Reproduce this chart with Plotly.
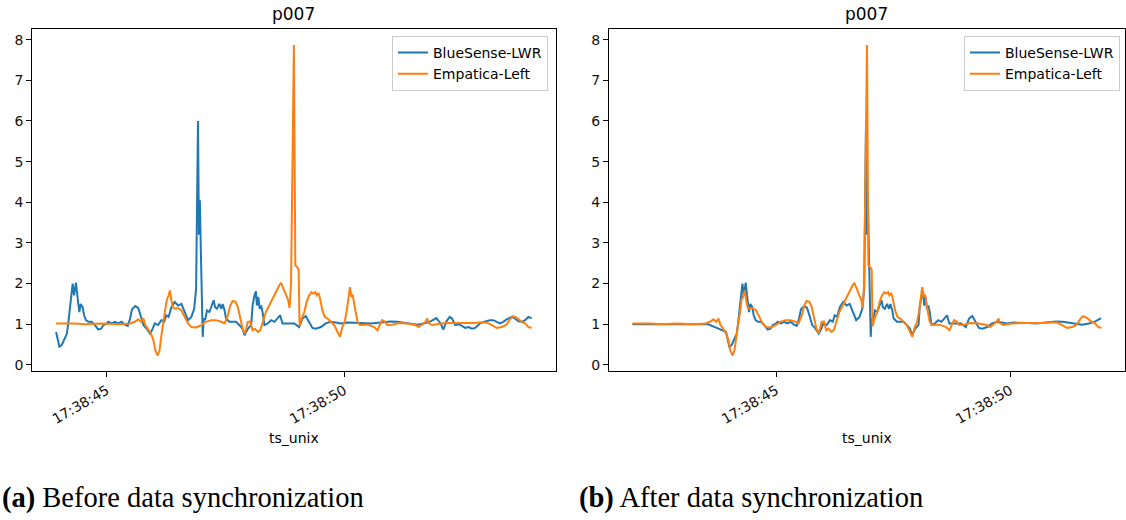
import pandas as pd
import plotly.graph_objects as go

# ---------------- data ----------------
BASE = "2020-01-01 17:38:00"          # clock base; values below are seconds after 17:38:00
TITLE = "p007"
SERIES_NAMES = ["BlueSense-LWR", "Empatica-Left"]
COLORS = ["#1f77b4", "#ff7f0e"]
X_LABEL = "ts_unix"
CAPTIONS = ["<b>(a)</b> Before data synchronization", "<b>(b)</b> After data synchronization"]
Y_TICKS = [0, 1, 2, 3, 4, 5, 6, 7, 8]
X_TICK_START_S = 45
X_TICK_STEP_S = 5

# BlueSense-LWR (before sync)
BLUE_T = [43.93, 44.00, 44.05, 44.16, 44.19, 44.23, 44.28, 44.31, 44.35, 44.39, 44.42, 44.45, 44.49,
          44.52, 44.56, 44.61, 44.68, 44.75, 44.82, 44.88, 44.93, 45.00, 45.03, 45.10, 45.17, 45.24,
          45.31, 45.38, 45.44, 45.49, 45.53, 45.60, 45.66, 45.71, 45.77, 45.84, 45.91, 45.95, 46.01,
          46.08, 46.15, 46.21, 46.25, 46.30, 46.36, 46.43, 46.50, 46.57, 46.64, 46.71, 46.78, 46.84,
          46.88, 46.92, 46.94, 46.96, 46.98, 47.00, 47.02, 47.04, 47.07, 47.11, 47.16, 47.21, 47.25,
          47.28, 47.32, 47.37, 47.41, 47.44, 47.48, 47.51, 47.58, 47.65, 47.72, 47.79, 47.86, 47.90,
          47.97, 48.04, 48.07, 48.11, 48.14, 48.16, 48.19, 48.22, 48.25, 48.28, 48.32, 48.39, 48.46,
          48.53, 48.60, 48.65, 48.70, 48.77, 48.84, 48.95, 49.05, 49.12, 49.19, 49.26, 49.33, 49.40,
          49.51, 49.61, 49.72, 49.82, 49.93, 50.07, 50.21, 50.35, 50.56, 50.77, 50.98, 51.12, 51.33,
          51.54, 51.68, 51.82, 51.94, 52.03, 52.09, 52.15, 52.22, 52.27, 52.34, 52.41, 52.48, 52.55,
          52.62, 52.69, 52.76, 52.86, 52.97, 53.07, 53.14, 53.21, 53.28, 53.35, 53.42, 53.53, 53.60,
          53.67, 53.74, 53.81, 53.88, 53.95]
BLUE_V = [0.81, 0.45, 0.49, 0.77, 1.06, 1.46, 2.00, 1.71, 2.02, 1.59, 1.30, 1.50, 1.42,
          1.22, 1.10, 1.06, 1.06, 0.98, 0.87, 0.89, 0.98, 1.02, 1.06, 1.02, 1.06, 1.02,
          1.06, 0.99, 0.96, 1.14, 1.37, 1.45, 1.40, 1.22, 0.98, 0.89, 0.77, 0.85, 1.02,
          0.98, 1.10, 1.06, 1.22, 1.18, 1.42, 1.55, 1.46, 1.50, 1.30, 1.10, 1.18, 1.38,
          1.87, 6.00, 3.20, 4.05, 2.80, 1.95, 0.69, 1.14, 1.10, 1.34, 1.30, 1.46, 1.59,
          1.42, 1.38, 1.50, 1.38, 1.50, 1.34, 1.14, 1.06, 1.06, 1.06, 0.98, 0.89, 0.73,
          0.89, 0.98, 1.46, 1.71, 1.81, 1.46, 1.67, 1.38, 1.46, 1.30, 0.98, 1.02, 1.10,
          1.06, 1.14, 1.22, 1.02, 1.02, 1.03, 1.02, 0.93, 1.14, 1.20, 1.06, 0.91, 0.89,
          0.93, 1.02, 1.06, 1.04, 1.02, 1.04, 1.04, 1.03, 1.02, 1.04, 1.07, 1.06, 1.02,
          0.99, 1.02, 1.07, 1.15, 1.02, 0.87, 1.06, 1.18, 1.14, 0.98, 1.00, 0.96, 0.91,
          0.93, 0.89, 0.91, 1.02, 1.07, 1.10, 1.10, 1.06, 1.02, 1.06, 1.12, 1.18, 1.14,
          1.07, 1.06, 1.10, 1.18, 1.15]

# Empatica-Left (before sync)
ORANGE_T = [43.93, 44.33, 44.54, 44.89, 45.24, 45.49, 45.59, 45.66, 45.72, 45.77, 45.81, 45.87, 45.93,
            45.98, 46.02, 46.07, 46.11, 46.15, 46.19, 46.23, 46.26, 46.30, 46.33, 46.36, 46.39, 46.43,
            46.50, 46.57, 46.64, 46.71, 46.78, 46.88, 46.99, 47.09, 47.20, 47.30, 47.41, 47.48, 47.55,
            47.60, 47.65, 47.71, 47.76, 47.81, 47.86, 47.91, 47.97, 48.02, 48.07, 48.12, 48.18, 48.23,
            48.28, 48.35, 48.42, 48.49, 48.56, 48.63, 48.67, 48.72, 48.77, 48.82, 48.85, 48.88, 48.94,
            48.97, 49.01, 49.04, 49.06, 49.09, 49.16, 49.21, 49.26, 49.31, 49.35, 49.39, 49.42, 49.46,
            49.49, 49.54, 49.59, 49.65, 49.72, 49.79, 49.86, 49.91, 49.96, 50.01, 50.05, 50.09, 50.12,
            50.15, 50.18, 50.21, 50.24, 50.28, 50.33, 50.42, 50.49, 50.63, 50.70, 50.75, 50.80, 50.85,
            50.91, 51.01, 51.15, 51.33, 51.50, 51.57, 51.64, 51.71, 51.75, 51.78, 51.85, 52.03, 52.23,
            52.44, 52.58, 52.72, 52.86, 53.00, 53.11, 53.21, 53.32, 53.42, 53.49, 53.55, 53.63, 53.74,
            53.81, 53.88, 53.95]
ORANGE_V = [1.02, 1.02, 1.00, 1.02, 1.00, 1.02, 1.06, 1.12, 1.06, 1.14, 0.98, 0.89, 0.77,
            0.61, 0.36, 0.23, 0.36, 0.73, 1.02, 1.30, 1.59, 1.71, 1.83, 1.59, 1.42, 1.38,
            1.40, 1.34, 1.18, 1.02, 0.93, 0.92, 0.98, 1.06, 1.10, 1.10, 1.06, 1.02, 1.22,
            1.46, 1.57, 1.55, 1.42, 1.14, 0.89, 0.77, 1.06, 1.07, 0.85, 0.89, 0.81, 0.85,
            1.02, 1.30, 1.46, 1.63, 1.79, 1.95, 2.02, 1.87, 1.75, 1.59, 1.40, 2.00, 7.87,
            2.45, 2.40, 2.35, 0.95, 1.10, 1.30, 1.55, 1.71, 1.79, 1.75, 1.79, 1.71, 1.77,
            1.63, 1.34, 1.18, 1.14, 1.06, 0.98, 0.81, 0.69, 0.93, 1.06, 1.30, 1.67, 1.91,
            1.67, 1.73, 1.50, 1.26, 1.06, 0.98, 0.99, 0.99, 0.93, 0.85, 0.98, 1.10, 1.07,
            0.98, 0.99, 1.03, 1.02, 0.98, 0.93, 0.99, 1.06, 1.14, 1.02, 0.98, 1.02, 1.03,
            1.03, 1.02, 1.03, 1.04, 1.04, 0.98, 0.91, 0.93, 0.99, 1.12, 1.20, 1.16, 1.06,
            1.02, 0.93, 0.91]

# After sync: Empatica stream moved by the estimated offset; BlueSense padded at the start
SYNC_OFFSET_S = -2.0
BLUE_PAD_T = [41.93, 43.55]
BLUE_PAD_V = [1.0, 1.0]

# ---------------- build ----------------
base = pd.Timestamp(BASE)


def to_dt(secs):
    return [base + pd.to_timedelta(s, unit="s") for s in secs]


def fmt(ts):
    return ts.strftime("%Y-%m-%d %H:%M:%S.%f")


orange_after_t = [t + SYNC_OFFSET_S for t in ORANGE_T]
end_after = max(orange_after_t)
blue_after_t = BLUE_PAD_T + [t for t in BLUE_T if t <= end_after]
blue_after_v = BLUE_PAD_V + [v for t, v in zip(BLUE_T, BLUE_V) if t <= end_after]

panels = [
    (BLUE_T, BLUE_V, ORANGE_T, ORANGE_V),
    (blue_after_t, blue_after_v, orange_after_t, ORANGE_V),
]

W, H = 1126, 520
x_dom = [[32.3 / W, 556 / W], [609.5 / W, 1.0]]
y_dom = [1 - 372.5 / H, 1 - 29.5 / H]
legend_right_px = [548.5, 1121]

fig = go.Figure()
FONT = "DejaVu Sans"
FS = 14

all_v = BLUE_V + ORANGE_V
vmin, vmax = min(all_v), max(all_v)
vpad = 0.05 * (vmax - vmin)
y_range = [vmin - vpad, vmax + vpad]

annotations = []
for i, (bt, bv, ot, ov) in enumerate(panels):
    xa = "x" if i == 0 else "x2"
    ya = "y" if i == 0 else "y2"
    lg = "legend" if i == 0 else "legend2"
    for name, col, tt, vv in [(SERIES_NAMES[0], COLORS[0], bt, bv), (SERIES_NAMES[1], COLORS[1], ot, ov)]:
        fig.add_trace(go.Scatter(x=to_dt(tt), y=vv, mode="lines", name=name,
                                 line=dict(color=col, width=2), xaxis=xa, yaxis=ya, legend=lg))
    tmin = min(min(bt), min(ot))
    tmax = max(max(bt), max(ot))
    pad = 0.05 * (tmax - tmin)
    xr = [fmt(base + pd.to_timedelta(tmin - pad, unit="s")),
          fmt(base + pd.to_timedelta(tmax + pad, unit="s"))]
    axis_common = dict(showline=True, linecolor="#000", linewidth=1, mirror=True,
                       ticks="outside", ticklen=5, tickwidth=1, tickcolor="#000",
                       showgrid=False, zeroline=False,
                       tickfont=dict(family=FONT, size=FS, color="#111"))
    fig.layout[("xaxis" if i == 0 else "xaxis2")] = dict(
        axis_common, domain=x_dom[i], anchor=ya, type="date", range=xr,
        tick0=fmt(base + pd.to_timedelta(X_TICK_START_S, unit="s")),
        dtick=X_TICK_STEP_S * 1000, tickformat="%H:%M:%S", tickangle=-30)
    fig.layout[("yaxis" if i == 0 else "yaxis2")] = dict(
        axis_common, domain=y_dom, anchor=xa, range=y_range,
        tickmode="array", tickvals=Y_TICKS, ticktext=[str(t) for t in Y_TICKS])
    cx = (x_dom[i][0] + x_dom[i][1]) / 2
    annotations.append(dict(text=TITLE, x=cx, y=1 - 14 / H, xref="paper", yref="paper",
                            xanchor="center", yanchor="middle", showarrow=False,
                            font=dict(family=FONT, size=17, color="#000")))
    annotations.append(dict(text=X_LABEL, x=cx, y=1 - 440 / H, xref="paper", yref="paper",
                            xanchor="center", yanchor="middle", showarrow=False,
                            font=dict(family=FONT, size=FS, color="#000")))
    fig.layout[lg] = dict(x=legend_right_px[i] / W, y=1 - 36 / H, xanchor="right", yanchor="top",
                          bgcolor="rgba(255,255,255,0.85)", bordercolor="#cccccc", borderwidth=1,
                          font=dict(family=FONT, size=FS, color="#000"), itemwidth=30,
                          tracegroupgap=0)

cap_x = [0 / W, 578 / W]
for i, cap in enumerate(CAPTIONS):
    annotations.append(dict(text=cap, x=cap_x[i], y=1 - 500 / H, xref="paper", yref="paper",
                            xanchor="left", yanchor="middle", showarrow=False,
                            font=dict(family="Liberation Serif", size=28.5, color="#000")))

fig.update_layout(width=W, height=H, margin=dict(l=0, r=0, t=0, b=0),
                  paper_bgcolor="white", plot_bgcolor="white", showlegend=True,
                  annotations=annotations)

fig.write_html("out.html", config={"displayModeBar": False},
               post_script="document.body.style.margin='0';document.body.style.overflow='hidden';")
